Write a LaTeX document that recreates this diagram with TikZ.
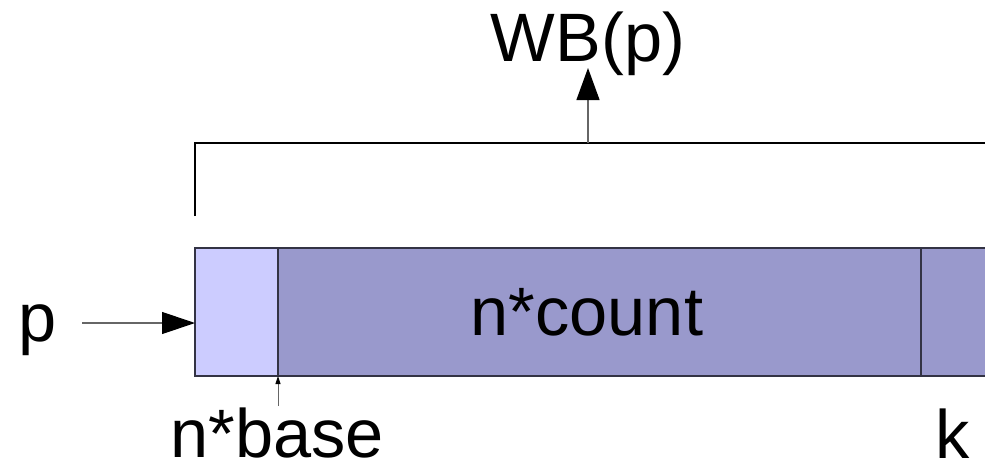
\documentclass[tikz,border=0pt]{standalone}
\usepackage{fontspec}
\setmainfont{Liberation Sans}
\usetikzlibrary{arrows.meta}
\definecolor{lightcell}{HTML}{CCCCFF}
\definecolor{darkcell}{HTML}{9999CC}
\definecolor{edge}{HTML}{333344}
\begin{document}
\begin{tikzpicture}[x=1pt,y=-1pt,
  lbl/.style={inner sep=0pt,anchor=base,font=\fontsize{68.5}{72}\selectfont},
  cell/.style={draw=edge,line width=1.2pt},
  conn/.style={line width=1.2pt,draw=black!60}]
\useasboundingbox (0,0) rectangle (985,469);
% cells
\fill[darkcell] (278,248) rectangle (985,376);
\fill[lightcell] (195,248) rectangle (278,376);
\draw[cell] (985,248) -- (195,248) -- (195,376) -- (985,376);
\draw[cell] (278,248) -- (278,376);
\draw[cell] (921,248) -- (921,376);
% bracket
\draw[line width=1.2pt] (195,216) -- (195,143) -- (985,143);
\coordinate (bt) at (588,143);
% labels
\node[lbl] (wb) at (588,61) {WB(p)};
\node[lbl] (p) at (38,341) {p};
\node[lbl] (nc) at (587,335) {n*count};
\node[lbl] (nb) at (277,457) {n*base};
\node[lbl] (k) at (953,458) {k};
\coordinate (pin) at (195,323);
\coordinate (pout) at (82,323);
\coordinate (nbtip) at (278,376);
\coordinate (nbtail) at (278,406);
\coordinate (wbtip) at (588,68);
% connectors
\draw[conn,-{Triangle[length=33pt,width=22pt,color=black]}] (pout) -- (pin);
\draw[conn,-{Triangle[length=32pt,width=23pt,color=black]}] (bt) -- (wbtip);
\draw[conn,line width=0.9pt,-{Triangle[length=8pt,width=5pt,color=black]}] (nbtail) -- (nbtip);
\end{tikzpicture}
\end{document}
